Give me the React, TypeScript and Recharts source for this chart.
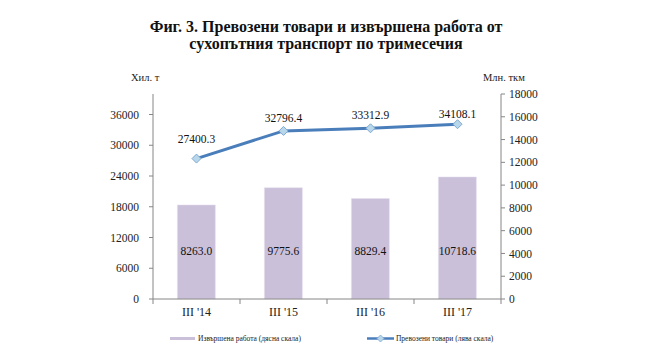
import {
  Bar,
  ComposedChart,
  LabelList,
  Line,
  XAxis,
  YAxis,
} from "recharts";

const quarters = ["III '14", "III '15", "III '16", "III '17"];
const workDone = [8263.0, 9775.6, 8829.4, 10718.6];
const goodsCarried = [27400.3, 32796.4, 33312.9, 34108.1];
const leftTicks = [0, 6000, 12000, 18000, 24000, 30000, 36000];
const rightTicks = [0, 2000, 4000, 6000, 8000, 10000, 12000, 14000, 16000, 18000];

const data = quarters.map((q, i) => ({
  quarter: q,
  work: workDone[i],
  goods: goodsCarried[i],
}));

// how far each line label sits above its point
const LINE_LABEL_LIFT = [16, 9, 9, 6];

const FONT = '"Liberation Serif", "Times New Roman", serif';
const AXIS_GREY = "#868686";
const BAR_COLOR = "#CBC0DA";
const LINE_COLOR = "#4A7EBB";

const Diamond = (props: any) => {
  const { cx, cy, index } = props;
  if (cx == null || cy == null) return null;
  const r = 4.5;
  return (
    <path
      key={`d-${index}`}
      d={`M${cx},${cy - r} L${cx + r},${cy} L${cx},${cy + r} L${cx - r},${cy} Z`}
      fill="#B9D7EA"
      stroke="#7FA9D0"
      strokeWidth={1}
    />
  );
};

const XTick = (props: any) => {
  const { x, y, payload, index } = props;
  const half = 348 / 4 / 2;
  return (
    <g>
      <line x1={x - half} x2={x - half} y1={y - 8} y2={y - 3} stroke={AXIS_GREY} />
      {index === quarters.length - 1 && (
        <line x1={x + half} x2={x + half} y1={y - 8} y2={y - 3} stroke={AXIS_GREY} />
      )}
      <text x={x} y={y + 9} textAnchor="middle" fontSize={12} fontFamily={FONT} fill="#222">
        {payload.value}
      </text>
    </g>
  );
};

const BarValue = (props: any) => {
  const { x, y, width, height, value } = props;
  return (
    <text
      x={x + width / 2}
      y={y + height - 44}
      textAnchor="middle"
      fontSize={11.5}
      fontFamily={FONT}
      fill="#111"
    >
      {Number(value).toFixed(1)}
    </text>
  );
};

const LineValue = (props: any) => {
  const { x, y, value, index } = props;
  return (
    <text
      x={x}
      y={y - LINE_LABEL_LIFT[index]}
      textAnchor="middle"
      fontSize={11.5}
      fontFamily={FONT}
      fill="#111"
    >
      {Number(value).toFixed(1)}
    </text>
  );
};

export default function App() {
  return (
    <div
      style={{
        position: "absolute",
        left: 0,
        top: 0,
        width: 660,
        height: 358,
        background: "#fff",
        fontFamily: FONT,
      }}
    >
      <div
        style={{
          position: "absolute",
          top: 18,
          left: 0,
          width: 652,
          textAlign: "center",
          fontWeight: "bold",
          fontSize: 16,
          lineHeight: "17px",
          color: "#111",
        }}
      >
        Фиг. 3. Превозени товари и извършена работа от
        <br />
        сухопътния транспорт по тримесечия
      </div>
      <div style={{ position: "absolute", left: 131, top: 72, fontSize: 10.5, color: "#222" }}>
        Хил. т
      </div>
      <div style={{ position: "absolute", left: 483, top: 72, fontSize: 10.5, color: "#222" }}>
        Млн. ткм
      </div>

      <ComposedChart
        width={660}
        height={358}
        data={data}
        margin={{ top: 94, right: 109, bottom: 34, left: 103 }}
        barCategoryGap="28%"
      >
        <XAxis
          dataKey="quarter"
          tick={<XTick />}
          tickLine={false}
          axisLine={{ stroke: AXIS_GREY }}
          height={25}
          interval={0}
        />
        <YAxis
          yAxisId="left"
          domain={[0, 40000]}
          ticks={leftTicks}
          width={50}
          tickSize={4}
          tickMargin={10}
          axisLine={{ stroke: AXIS_GREY }}
          tickLine={{ stroke: AXIS_GREY }}
          tick={{ fontSize: 11.5, fontFamily: FONT, fill: "#222" }}
        />
        <YAxis
          yAxisId="right"
          orientation="right"
          domain={[0, 18000]}
          ticks={rightTicks}
          width={50}
          tickSize={4}
          tickMargin={4}
          axisLine={{ stroke: AXIS_GREY }}
          tickLine={{ stroke: AXIS_GREY }}
          tick={{ fontSize: 11.5, fontFamily: FONT, fill: "#222", textAnchor: "start" }}
        />
        <Bar
          yAxisId="right"
          dataKey="work"
          fill={BAR_COLOR}
          stroke="#E6E0EE"
          strokeWidth={0.5}
          isAnimationActive={false}
        >
          <LabelList dataKey="work" content={<BarValue />} />
        </Bar>
        <Line
          yAxisId="left"
          dataKey="goods"
          stroke={LINE_COLOR}
          strokeWidth={3}
          dot={<Diamond />}
          activeDot={false}
          isAnimationActive={false}
        >
          <LabelList dataKey="goods" content={<LineValue />} />
        </Line>
      </ComposedChart>

      <div
        style={{
          position: "absolute",
          top: 334,
          left: 170,
          fontSize: 7.5,
          color: "#222",
          display: "flex",
          alignItems: "center",
          whiteSpace: "nowrap",
        }}
      >
        <span style={{ display: "inline-block", width: 25, height: 3, background: BAR_COLOR, marginRight: 3 }} />
        <span>Извършена работа (дясна скала)</span>
        <span style={{ display: "inline-block", width: 66 }} />
        <svg width={27} height={9} style={{ marginRight: 2 }}>
          <line x1={0} x2={27} y1={4.5} y2={4.5} stroke={LINE_COLOR} strokeWidth={2.5} />
          <path d="M13.5,1 L17,4.5 L13.5,8 L10,4.5 Z" fill="#B9D7EA" stroke="#7FA9D0" strokeWidth={0.8} />
        </svg>
        <span>Превозени товари (лява скала)</span>
      </div>
    </div>
  );
}
